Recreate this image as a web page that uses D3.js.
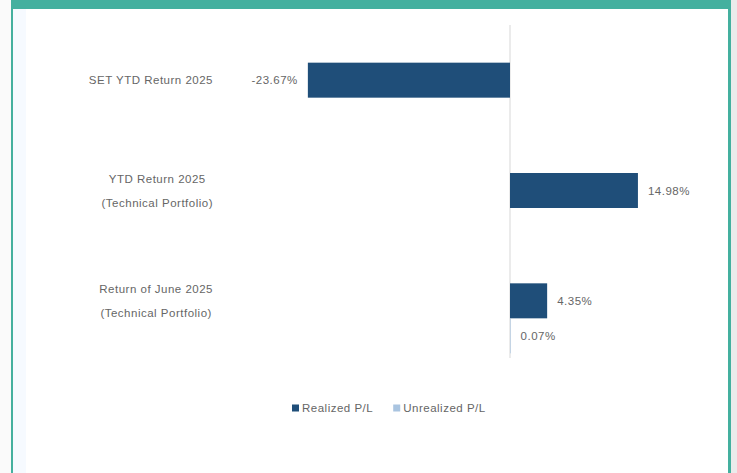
<!DOCTYPE html>
<html>
<head>
<meta charset="utf-8">
<script src="https://cdn.jsdelivr.net/npm/d3@7"></script>
<style>
  body { margin: 0; background: #fafafa; }
  svg { display: block; }
  text { font-family: "Liberation Sans", Arial, sans-serif; fill: #666666; }
</style>
</head>
<body>
<div id="chart"></div>
<script>
// categories, each label may have several lines
const categories = [
  ["SET YTD Return 2025"],
  ["YTD Return 2025", "(Technical Portfolio)"],
  ["Return of June 2025", "(Technical Portfolio)"]
];
const realized = [-23.67, 14.98, 4.35];
const unrealized = [null, null, 0.07];
const seriesNames = ["Realized P/L", "Unrealized P/L"];

function drawChart() {
  const W = 737, H = 473;
  const svg = d3.select("#chart").append("svg")
    .attr("width", W).attr("height", H);

  // frame
  svg.append("rect").attr("x", 0).attr("y", 0).attr("width", W).attr("height", H).attr("fill", "#fafafa");
  svg.append("rect").attr("x", 731).attr("y", 0).attr("width", 6).attr("height", H).attr("fill", "#ebebeb");
  svg.append("rect").attr("x", 11).attr("y", 0).attr("width", 720).attr("height", H).attr("fill", "#44b09f");
  svg.append("rect").attr("x", 13).attr("y", 9).attr("width", 715).attr("height", H - 9).attr("fill", "#ffffff");
  svg.append("rect").attr("x", 13).attr("y", 9).attr("width", 13).attr("height", H - 9).attr("fill", "#f6faff");

  const x = d3.scaleLinear().domain([-30, 25]).range([510 - 30 * 8.54, 510 + 25 * 8.54]);
  const y = d3.scaleBand().domain(d3.range(categories.length)).range([25, 356]);
  const sub = d3.scaleBand().domain([0, 1]).range([0, 70]);
  const barH = 35;
  // realized bar centred on the category centre, unrealized below it
  const groupTop = i => y(i) + y.bandwidth() / 2 - barH / 2;

  // zero line
  svg.append("line")
    .attr("x1", x(0)).attr("x2", x(0))
    .attr("y1", 25).attr("y2", 358)
    .attr("stroke", "#dedede").attr("stroke-width", 1.2);

  const fmt = v => v.toFixed(2) + "%";
  const fs = "11.5px", ls = "0.5px";

  // realized bars
  svg.selectAll(".real").data(realized).join("rect")
    .attr("class", "real")
    .attr("x", d => x(Math.min(0, d)))
    .attr("width", d => Math.abs(x(d) - x(0)))
    .attr("y", (d, i) => groupTop(i) + sub(0))
    .attr("height", barH)
    .attr("fill", "#1f4e79");

  svg.selectAll(".realLbl").data(realized).join("text")
    .attr("class", "realLbl")
    .attr("x", d => d < 0 ? x(d) - 10 : x(d) + 10)
    .attr("y", (d, i) => groupTop(i) + sub(0) + barH / 2)
    .attr("dy", "0.35em")
    .attr("text-anchor", d => d < 0 ? "end" : "start")
    .attr("font-size", fs).attr("letter-spacing", ls)
    .text(d => fmt(d));

  // unrealized bars
  const un = unrealized.map((v, i) => ({ v, i })).filter(d => d.v != null);
  svg.selectAll(".unreal").data(un).join("rect")
    .attr("class", "unreal")
    .attr("x", d => x(Math.min(0, d.v)))
    .attr("width", d => Math.abs(x(d.v) - x(0)))
    .attr("y", d => groupTop(d.i) + sub(1))
    .attr("height", barH)
    .attr("fill", "#a9c4e0");

  svg.selectAll(".unLbl").data(un).join("text")
    .attr("class", "unLbl")
    .attr("x", d => x(d.v) + 10)
    .attr("y", d => groupTop(d.i) + sub(1) + barH / 2)
    .attr("dy", "0.35em")
    .attr("font-size", fs).attr("letter-spacing", ls)
    .text(d => fmt(d.v));

  // category labels, multi-line centred on widest line, right edge at 213
  const catG = svg.selectAll(".cat").data(categories).join("text")
    .attr("class", "cat")
    .attr("font-size", fs).attr("letter-spacing", ls)
    .attr("text-anchor", "middle");
  catG.each(function (lines, i) {
    const t = d3.select(this);
    const lh = 24;
    const c = y(i) + y.bandwidth() / 2;
    lines.forEach((l, k) => {
      t.append("tspan")
        .attr("y", c + (k - (lines.length - 1) / 2) * lh)
        .attr("dy", "0.35em")
        .text(l);
    });
    let w = 0;
    t.selectAll("tspan").each(function () { w = Math.max(w, this.getComputedTextLength()); });
    t.selectAll("tspan").attr("x", 213 - w / 2);
  });

  // legend
  const legend = svg.append("g").attr("transform", "translate(292,408)");
  const colors = ["#1f4e79", "#a9c4e0"];
  let lx = 0;
  seriesNames.forEach((n, i) => {
    const g = legend.append("g").attr("transform", `translate(${lx},0)`);
    g.append("rect").attr("x", 0).attr("y", -3.5).attr("width", 7).attr("height", 7).attr("fill", colors[i]);
    const tx = g.append("text").attr("x", 10).attr("dy", "0.35em")
      .attr("font-size", fs).attr("letter-spacing", ls).text(n);
    lx += 10 + tx.node().getComputedTextLength() + 20;
  });
}

drawChart();
</script>
</body>
</html>
